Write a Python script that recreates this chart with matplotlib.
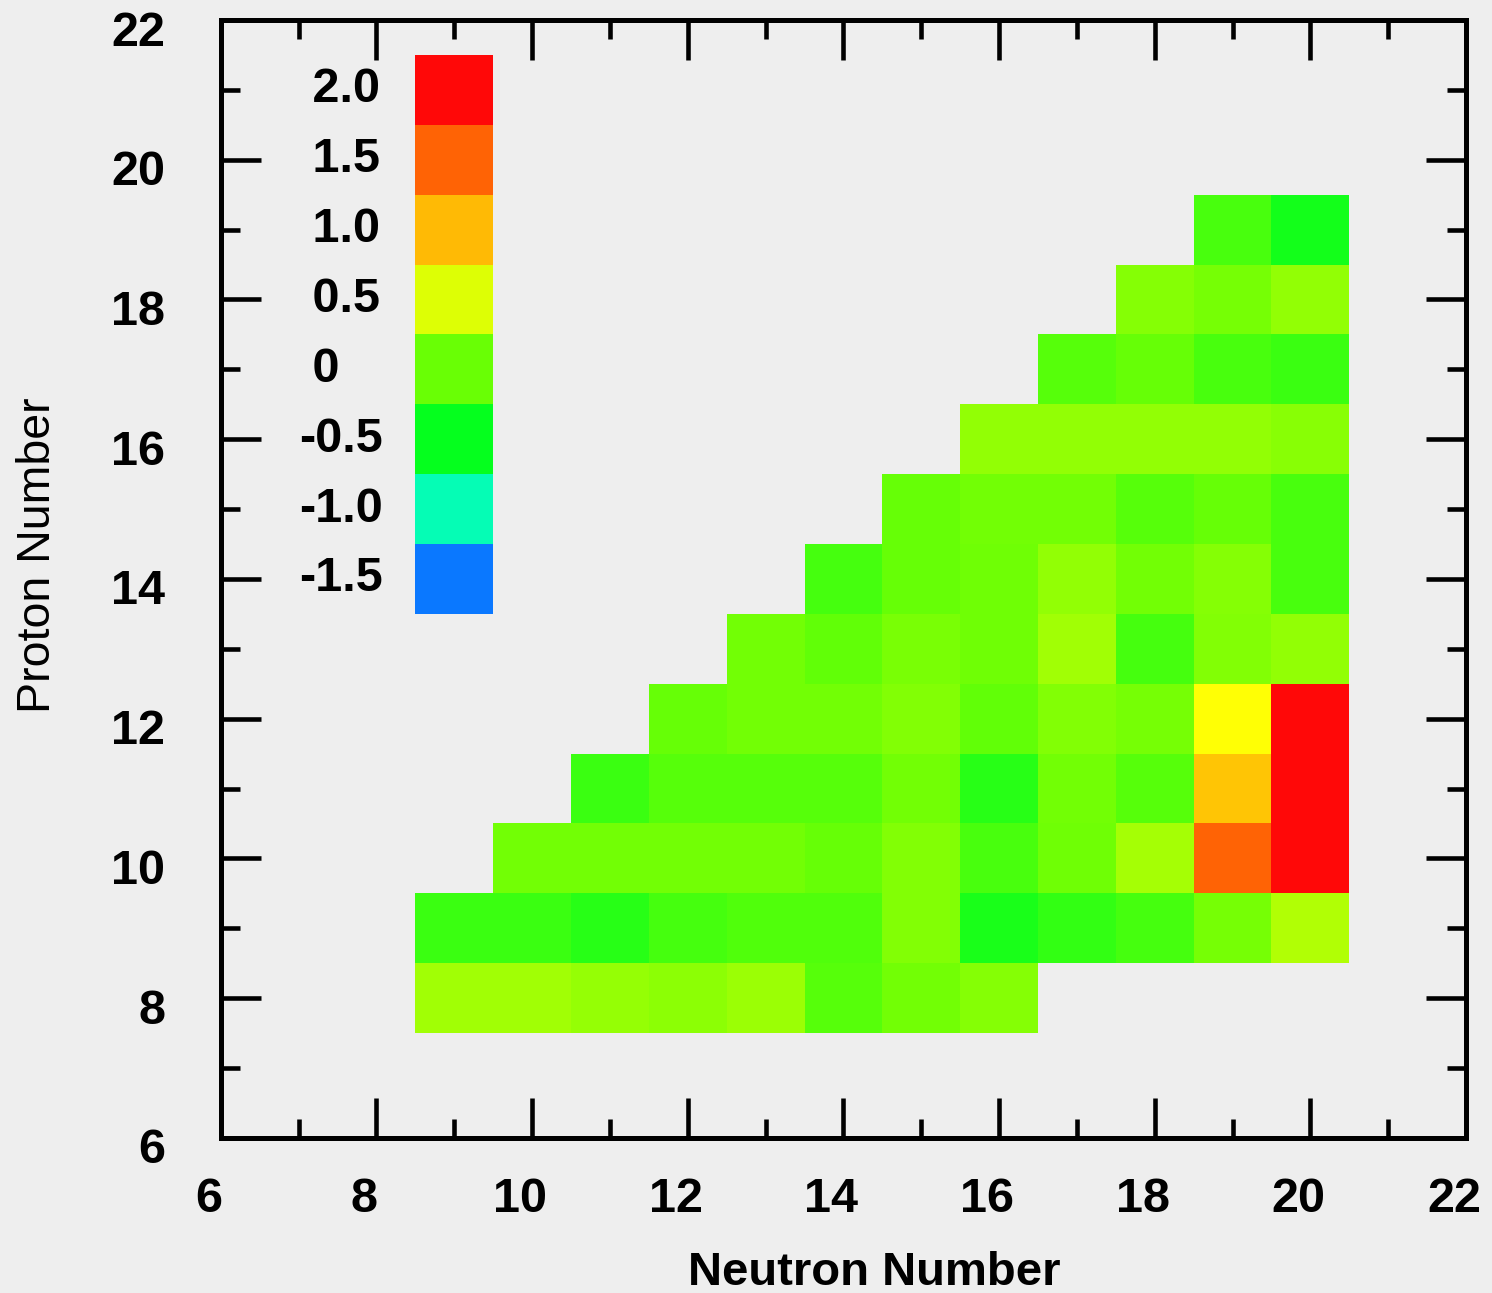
import numpy as np
import matplotlib
matplotlib.use("Agg")
import matplotlib.pyplot as plt
from matplotlib.colors import LinearSegmentedColormap, Normalize
from matplotlib.transforms import ScaledTranslation

# grid: neutron numbers (columns) and proton numbers (rows)
neutrons = list(range(9, 21))
protons = list(range(8, 20))
nan = np.nan
values = [
    [0.24, 0.24, 0.19, 0.15, 0.21, -0.10, 0.04, 0.12, nan, nan, nan, nan],          # Z=8
    [-0.23, -0.23, -0.33, -0.18, -0.13, -0.13, 0.10, -0.40, -0.27, -0.18, 0.05, 0.31],  # Z=9
    [nan, 0.04, 0.04, 0.04, 0.04, -0.02, 0.10, -0.17, 0.03, 0.26, 1.50, 2.00],      # Z=10
    [nan, nan, -0.23, -0.10, -0.10, -0.10, 0.04, -0.33, 0.04, -0.10, 0.95, 2.00],   # Z=11
    [nan, nan, nan, -0.02, 0.04, 0.04, 0.10, -0.05, 0.10, 0.05, 0.75, 2.00],        # Z=12
    [nan, nan, nan, nan, 0.04, -0.05, 0.07, 0.03, 0.24, -0.18, 0.10, 0.17],         # Z=13
    [nan, nan, nan, nan, nan, -0.18, -0.02, 0.03, 0.18, 0.04, 0.12, -0.17],         # Z=14
    [nan, nan, nan, nan, nan, nan, -0.02, 0.04, 0.04, -0.10, -0.02, -0.17],         # Z=15
    [nan, nan, nan, nan, nan, nan, nan, 0.18, 0.18, 0.18, 0.18, 0.13],              # Z=16
    [nan, nan, nan, nan, nan, nan, nan, nan, -0.10, -0.02, -0.17, -0.23],           # Z=17
    [nan, nan, nan, nan, nan, nan, nan, nan, nan, 0.12, 0.05, 0.18],                # Z=18
    [nan, nan, nan, nan, nan, nan, nan, nan, nan, nan, -0.17, -0.43],               # Z=19
]

# in-plot colour key
key_values = [2.0, 1.5, 1.0, 0.5, 0.0, -0.5, -1.0, -1.5]
key_labels = [" 2.0", " 1.5", " 1.0", " 0.5", " 0", "-0.5", "-1.0", "-1.5"]
key_rows = [21, 20, 19, 18, 17, 16, 15, 14]
key_col = 9

# colour anchors (value, colour)
anchor_vals = [-1.5, -1.0, -0.5, 0.0, 0.5, 0.75, 1.0, 1.5, 2.0]
anchor_cols = ["#0a78ff", "#05ffb4", "#05ff1e", "#6aff05", "#dcff05",
               "#ffff05", "#ffb905", "#ff6405", "#ff0808"]

vmin, vmax = -1.5, 2.0
cmap = LinearSegmentedColormap.from_list(
    "key", [((v - vmin) / (vmax - vmin), c) for v, c in zip(anchor_vals, anchor_cols)])
norm = Normalize(vmin, vmax)

bg = "#eeeeee"
font = "Liberation Sans"

fig = plt.figure(figsize=(14.92, 12.93), dpi=100, facecolor=bg)
ax = fig.add_axes([0.148, 0.120, 0.8346, 0.8645])
ax.set_facecolor(bg)

N = np.array(neutrons)
Z = np.array(protons)
xe = np.append(N - 0.5, N[-1] + 0.5)
ye = np.append(Z - 0.5, Z[-1] + 0.5)
data = np.ma.masked_invalid(np.array(values))
ax.pcolormesh(xe, ye, data, cmap=cmap, norm=norm, antialiased=False)

# colour key drawn as a column of cells
kr = np.array(key_rows[::-1])
kv = np.array(key_values[::-1]).reshape(-1, 1)
ax.pcolormesh([key_col - 0.5, key_col + 0.5], np.append(kr - 0.5, kr[-1] + 0.5),
              kv, cmap=cmap, norm=norm, antialiased=False)
for lab, r in zip(key_labels, key_rows):
    ax.text(7.0, r, lab, ha="left", va="center", fontsize=35,
            fontweight="bold", family=font)

ax.set_xlim(6, 22)
ax.set_ylim(6, 22)
ax.set_xticks(range(6, 23, 2))
ax.set_yticks(range(6, 23, 2))
ax.set_xticks(range(6, 23), minor=True)
ax.set_yticks(range(6, 23), minor=True)
ax.tick_params(which="both", direction="in", top=True, right=True,
               width=3.3, color="black")
ax.tick_params(which="major", length=29, pad=28)
ax.tick_params(which="minor", length=14)
ax.tick_params(axis="y", which="major", pad=40)
for spine in ax.spines.values():
    spine.set_linewidth(3.6)

for lab in ax.get_xticklabels():
    lab.set_fontsize(35)
    lab.set_fontweight("bold")
    lab.set_family(font)
    lab.set_transform(lab.get_transform() + ScaledTranslation(-12 / 100, 0, fig.dpi_scale_trans))
for lab in ax.get_yticklabels():
    lab.set_fontsize(35)
    lab.set_fontweight("bold")
    lab.set_family(font)
    lab.set_transform(lab.get_transform() + ScaledTranslation(0, -8 / 100, fig.dpi_scale_trans))

ax.set_xlabel("Neutron Number", fontsize=34, fontweight="bold", family=font)
ax.xaxis.set_label_coords(0.5245, -0.101)
ax.set_ylabel("Proton Number", fontsize=33.5, family=font)
ax.yaxis.set_label_coords(-0.129, 0.521)

fig.savefig("out.png", dpi=100, facecolor=bg)
